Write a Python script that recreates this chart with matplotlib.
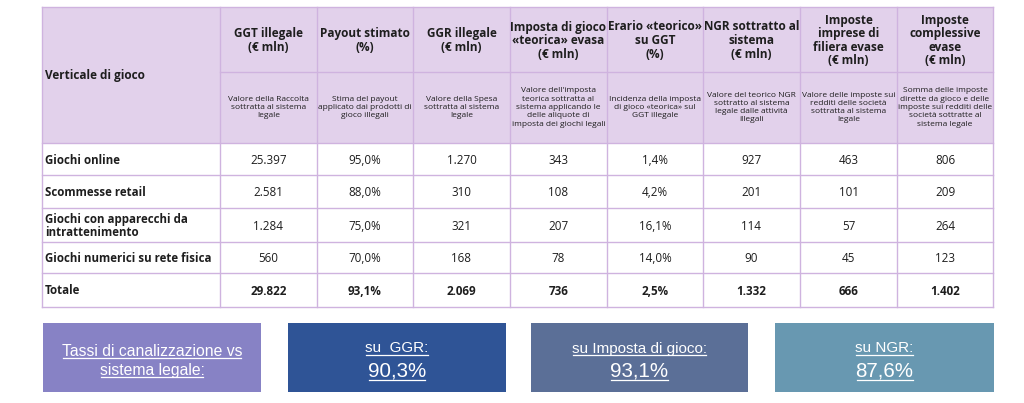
import matplotlib
matplotlib.use("Agg")
import matplotlib.pyplot as plt
from matplotlib.patches import Rectangle

# table content
headers = [
    "GGT illegale\n(€ mln)",
    "Payout stimato\n(%)",
    "GGR illegale\n(€ mln)",
    "Imposta di gioco\n«teorica» evasa\n(€ mln)",
    "Erario «teorico»\nsu GGT\n(%)",
    "NGR sottratto al\nsistema\n(€ mln)",
    "Imposte\nimprese di\nfiliera evase\n(€ mln)",
    "Imposte\ncomplessive\nevase\n(€ mln)",
]
descriptions = [
    "Valore della Raccolta\nsottratta al sistema\nlegale",
    "Stima del payout\napplicato dai prodotti di\ngioco illegali",
    "Valore della Spesa\nsottratta al sistema\nlegale",
    "Valore dell'imposta\nteorica sottratta al\nsistema applicando le\ndelle aliquote di\nimposta dei giochi legali",
    "Incidenza della imposta\ndi gioco «teorica» sul\nGGT illegale",
    "Valore del teorico NGR\nsottratto al sistema\nlegale dalle attività\nillegali",
    "Valore delle imposte sui\nredditi delle società\nsottratta al sistema\nlegale",
    "Somma delle imposte\ndirette da gioco e delle\nimposte sui redditi delle\nsocietà sottratte al\nsistema legale",
]
row_labels = [
    "Giochi online",
    "Scommesse retail",
    "Giochi con apparecchi da\nintrattenimento",
    "Giochi numerici su rete fisica",
    "Totale",
]
ggt = ["25.397", "2.581", "1.284", "560", "29.822"]
payout = ["95,0%", "88,0%", "75,0%", "70,0%", "93,1%"]
ggr = ["1.270", "310", "321", "168", "2.069"]
imposta = ["343", "108", "207", "78", "736"]
erario = ["1,4%", "4,2%", "16,1%", "14,0%", "2,5%"]
ngr = ["927", "201", "114", "90", "1.332"]
imp_filiera = ["463", "101", "57", "45", "666"]
imp_tot = ["806", "209", "264", "123", "1.402"]
columns = [ggt, payout, ggr, imposta, erario, ngr, imp_filiera, imp_tot]

box_titles = ["Tassi di canalizzazione vs\nsistema legale:", "su  GGR:", "su Imposta di gioco:", "su NGR:"]
box_values = [None, "90,3%", "93,1%", "87,6%"]

# layout (pixels)
col_x = [42, 220, 317, 413, 510, 607, 703, 800, 897, 993]
row_y = [7, 72, 143, 175, 208, 242, 273, 307]
box_x = [(43, 261), (288, 506), (531, 748), (775, 994)]
box_y = (323, 392)
box_colors = ["#8782c5", "#2f5496", "#5b6f97", "#6898b1"]

head_fill = "#e2d1eb"
line_col = "#cfb3df"
txt = "#1e1e1e"
font = "Open Sans"

fig = plt.figure(figsize=(10.24, 4.03), dpi=100)
ax = fig.add_axes([0, 0, 1, 1])
ax.set_xlim(0, 1024)
ax.set_ylim(403, 0)
ax.axis("off")

# header background
ax.add_patch(Rectangle((col_x[0], row_y[0]), col_x[-1] - col_x[0], row_y[2] - row_y[0],
                       facecolor=head_fill, edgecolor="none"))

# grid lines
for x in col_x:
    ax.plot([x, x], [row_y[0], row_y[-1]], color=line_col, lw=1.0)
ax.plot([col_x[1], col_x[-1]], [row_y[1], row_y[1]], color=line_col, lw=1.0)
for y in [row_y[0]] + row_y[2:]:
    ax.plot([col_x[0], col_x[-1]], [y, y], color=line_col, lw=1.0)

# header texts
ax.text(col_x[0] + 3, (row_y[0] + row_y[2]) / 2 + 1, "Verticale di gioco", ha="left", va="center",
        fontsize=8.5, fontweight="bold", family=font, color=txt)
for j in range(len(headers)):
    cx = (col_x[j + 1] + col_x[j + 2]) / 2
    ax.text(cx, (row_y[0] + row_y[1]) / 2 + 1, headers[j], ha="center", va="center",
            fontsize=8.5, fontweight="bold", family=font, color=txt, linespacing=1.05)
    ax.text(cx, (row_y[1] + row_y[2]) / 2, descriptions[j], ha="center", va="center",
            fontsize=6.0, family=font, color=txt, linespacing=1.25)

# body
for i, lab in enumerate(row_labels):
    cy = (row_y[i + 2] + row_y[i + 3]) / 2
    ax.text(col_x[0] + 3, cy + 1, lab, ha="left", va="center", fontsize=8.3,
            fontweight="bold", family=font, color=txt, linespacing=1.0)
    bold = lab == "Totale"
    for j, col in enumerate(columns):
        cx = (col_x[j + 1] + col_x[j + 2]) / 2
        ax.text(cx, cy, col[i], ha="center", va="center_baseline", fontsize=8.4,
                fontweight="bold" if bold else "normal", family=font, color=txt)

# bottom boxes
underlined = []
for k in range(len(box_titles)):
    x0, x1 = box_x[k]
    ax.add_patch(Rectangle((x0, box_y[0]), x1 - x0, box_y[1] - box_y[0],
                           facecolor=box_colors[k], edgecolor="none"))
    cx = (x0 + x1) / 2
    if box_values[k] is None:
        for n, line in enumerate(box_titles[k].split("\n")):
            t = ax.text(cx, 350 + n * 19, line, ha="center", va="center_baseline", fontsize=11.3,
                        family="Liberation Sans", color="white")
            underlined.append(t)
    else:
        t1 = ax.text(cx, 347, box_titles[k], ha="center", va="center_baseline", fontsize=11,
                     family="Liberation Sans", color="white")
        t2 = ax.text(cx, 369, box_values[k], ha="center", va="center_baseline", fontsize=14.8,
                     family="Liberation Sans", color="white")
        underlined += [t1, t2]

# underline the box texts
fig.canvas.draw()
r = fig.canvas.get_renderer()
inv = ax.transData.inverted()
for t in underlined:
    bb = t.get_window_extent(r)
    (ax0, ay0) = inv.transform((bb.x0, bb.y0))
    (ax1, _) = inv.transform((bb.x1, bb.y0))
    ax.plot([ax0 + 1, ax1 - 1], [ay0 - 1.0, ay0 - 1.0], color="white", lw=0.9)

fig.savefig("out.png", dpi=100, facecolor="white")
